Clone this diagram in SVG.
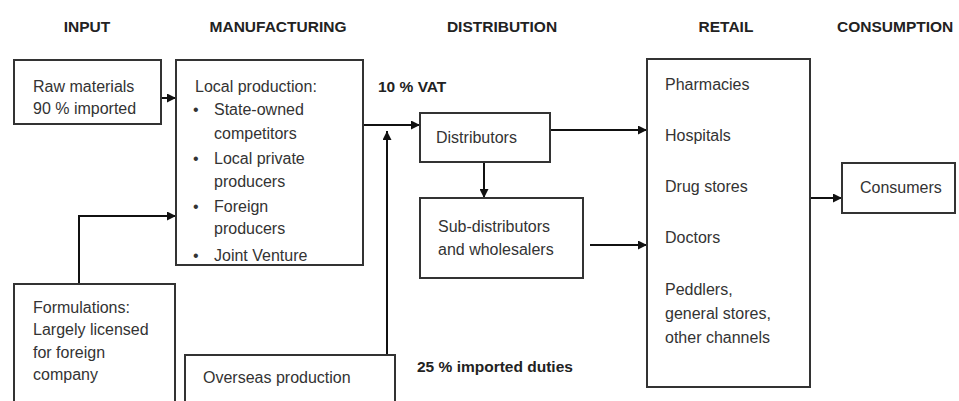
<svg xmlns="http://www.w3.org/2000/svg" width="959" height="401" viewBox="0 0 959 401">
<style>
text{font-family:"Liberation Sans",Arial,sans-serif;font-size:16px;fill:#333}
.h{font-weight:bold;fill:#222;font-size:15.5px}
.box{fill:#fff;stroke:#333;stroke-width:2}
.c{fill:none;stroke:#111;stroke-width:2}
</style>
<defs>
<marker id="a" viewBox="0 0 10 10" refX="10" refY="5" markerWidth="4.5" markerHeight="4.5" orient="auto" markerUnits="strokeWidth">
<path d="M0,0 L10,5 L0,10 z" fill="#111"/>
</marker>
</defs>
<rect width="959" height="401" fill="#fff"/>
<g id="headers">
<text class="h" x="87" y="32" text-anchor="middle">INPUT</text>
<text class="h" x="278" y="32" text-anchor="middle">MANUFACTURING</text>
<text class="h" x="502" y="32" text-anchor="middle">DISTRIBUTION</text>
<text class="h" x="726" y="32" text-anchor="middle">RETAIL</text>
<text class="h" x="837" y="32">CONSUMPTION</text>
</g>
<g id="connectors">
<path class="c" d="M161,98 H176" marker-end="url(#a)"/>
<path class="c" d="M363,125 H420" marker-end="url(#a)"/>
<path class="c" d="M387,355 V131" marker-end="url(#a)"/>
<path class="c" d="M79,284 V216 H176" marker-end="url(#a)"/>
<path class="c" d="M550,130 H647" marker-end="url(#a)"/>
<path class="c" d="M484,162 V198" marker-end="url(#a)"/>
<path class="c" d="M590,245 H647" marker-end="url(#a)"/>
<path class="c" d="M810,198 H842" marker-end="url(#a)"/>
</g>
<g id="raw">
<rect class="box" x="14" y="60" width="147" height="64"/>
<text x="33" y="92">Raw materials</text>
<text x="33" y="114">90 % imported</text>
</g>
<g id="local">
<rect class="box" x="176" y="60" width="187" height="205"/>
<text x="195" y="92">Local production:</text>
<text x="193" y="115">•</text><text x="214" y="115">State-owned</text>
<text x="214" y="139">competitors</text>
<text x="193" y="164">•</text><text x="214" y="164">Local private</text>
<text x="214" y="187">producers</text>
<text x="193" y="212">•</text><text x="214" y="212">Foreign</text>
<text x="214" y="234">producers</text>
<text x="193" y="261">•</text><text x="214" y="261">Joint Venture</text>
<rect x="175" y="264" width="189" height="2" fill="#333"/>
</g>
<g id="vat"><text class="h" x="378" y="92">10 % VAT</text></g>
<g id="duties"><text class="h" x="417" y="372">25 % imported duties</text></g>
<g id="distributors">
<rect class="box" x="420" y="113" width="130" height="49"/>
<text x="436" y="143">Distributors</text>
</g>
<g id="subdist">
<rect class="box" x="420" y="198" width="163" height="80"/>
<text x="438" y="232">Sub-distributors</text>
<text x="438" y="255">and wholesalers</text>
</g>
<g id="retail">
<rect class="box" x="647" y="59" width="163" height="328"/>
<text x="665" y="90">Pharmacies</text>
<text x="665" y="141">Hospitals</text>
<text x="665" y="192">Drug stores</text>
<text x="665" y="243">Doctors</text>
<text x="665" y="295">Peddlers,</text>
<text x="665" y="319">general stores,</text>
<text x="665" y="343">other channels</text>
</g>
<g id="consumers">
<rect class="box" x="842" y="163" width="113" height="50"/>
<text x="860" y="193">Consumers</text>
</g>
<g id="formulations">
<rect class="box" x="14" y="284" width="161" height="130"/>
<text x="33" y="313">Formulations:</text>
<text x="33" y="335">Largely licensed</text>
<text x="33" y="358">for foreign</text>
<text x="33" y="380">company</text>
</g>
<g id="overseas">
<rect class="box" x="185" y="355" width="210" height="60"/>
<text x="203" y="383">Overseas production</text>
</g>
</svg>
